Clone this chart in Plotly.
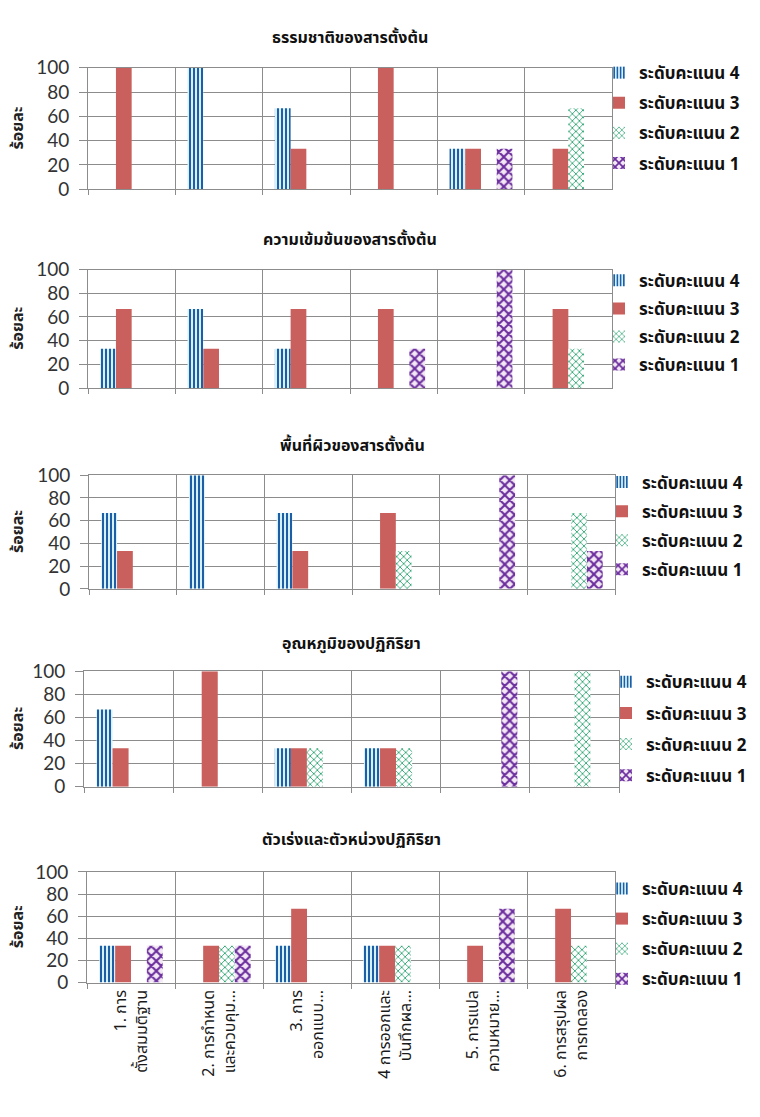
import plotly.graph_objects as go

# Categories (science process skills) shown on the shared x axis
categories = [
    "1. การ<br>ตั้งสมมติฐาน",
    "2. การกำหนด<br>และควบคุม...",
    "3. การ<br>ออกแบบ...",
    "4 การออกและ<br>บันทึกผล...",
    "5. การแปล<br>ความหมาย...",
    "6. การสรุปผล<br>การทดลอง",
]

level_names = ["ระดับคะแนน 4", "ระดับคะแนน 3", "ระดับคะแนน 2", "ระดับคะแนน 1"]

panel_titles = [
    "ธรรมชาติของสารตั้งต้น",
    "ความเข้มข้นของสารตั้งต้น",
    "พื้นที่ผิวของสารตั้งต้น",
    "อุณหภูมิของปฏิกิริยา",
    "ตัวเร่งและตัวหน่วงปฏิกิริยา",
]

# Percent of students at each score level, per category
nature_l4 = [0, 100, 66.7, 0, 33.3, 0]
nature_l3 = [100, 0, 33.3, 100, 33.3, 33.3]
nature_l2 = [0, 0, 0, 0, 0, 66.7]
nature_l1 = [0, 0, 0, 0, 33.3, 0]

conc_l4 = [33.3, 66.7, 33.3, 0, 0, 0]
conc_l3 = [66.7, 33.3, 66.7, 66.7, 0, 66.7]
conc_l2 = [0, 0, 0, 0, 0, 33.3]
conc_l1 = [0, 0, 0, 33.3, 100, 0]

surface_l4 = [66.7, 100, 66.7, 0, 0, 0]
surface_l3 = [33.3, 0, 33.3, 66.7, 0, 0]
surface_l2 = [0, 0, 0, 33.3, 0, 66.7]
surface_l1 = [0, 0, 0, 0, 100, 33.3]

temp_l4 = [66.7, 0, 33.3, 33.3, 0, 0]
temp_l3 = [33.3, 100, 33.3, 33.3, 0, 0]
temp_l2 = [0, 0, 33.3, 33.3, 0, 100]
temp_l1 = [0, 0, 0, 0, 100, 0]

catalyst_l4 = [33.3, 0, 33.3, 33.3, 0, 0]
catalyst_l3 = [33.3, 33.3, 66.7, 33.3, 33.3, 66.7]
catalyst_l2 = [0, 33.3, 0, 33.3, 0, 33.3]
catalyst_l1 = [33.3, 33.3, 0, 0, 66.7, 0]

y_ticks = [0, 20, 40, 60, 80, 100]

panels = [
    [nature_l4, nature_l3, nature_l2, nature_l1],
    [conc_l4, conc_l3, conc_l2, conc_l1],
    [surface_l4, surface_l3, surface_l2, surface_l1],
    [temp_l4, temp_l3, temp_l2, temp_l1],
    [catalyst_l4, catalyst_l3, catalyst_l2, catalyst_l1],
]

W, H = 760, 1117
# plot-area pixel boxes: (left, right, top, bottom)
boxes = [
    (88, 612, 57, 181),
    (88, 612, 263, 384),
    (89, 615, 473, 589),
    (84, 619, 673, 791),
    (87, 615, 878, 991),
]
title_y = [27, 233, 443, 645, 845]
# legend placement per panel: top edge (px) and gap between entries
legend_top = [44, 256, 462, 666, 877]
legend_gap = [5, 3, 4, 6, 5]

THAI = "Tahoma, 'Noto Sans Thai', 'Noto Sans', 'DejaVu Sans', sans-serif"
NUM = "Lato, 'Liberation Sans', sans-serif"
GRID = "#8c8c8c"

styles = [
    dict(color="#d6f1fb", pattern=dict(shape="|", fgcolor="#1c5fa6", bgcolor="#d6f1fb",
                                       size=4, solidity=0.5, fillmode="replace")),
    dict(color="#c9605d"),
    dict(color="white", pattern=dict(shape="x", fgcolor="#22a06a", bgcolor="white",
                                     size=5, solidity=0.3, fillmode="replace")),
    dict(color="#f4e8f4", pattern=dict(shape="x", fgcolor="#6a2c9e", bgcolor="#f4e8f4",
                                       size=7, solidity=0.5, fillmode="replace")),
]

fig = go.Figure()

for p, series in enumerate(panels):
    n = "" if p == 0 else str(p + 1)
    leg = "legend" + n
    for k, vals in enumerate(series):
        fig.add_trace(go.Bar(
            x=categories, y=vals, name=level_names[k],
            xaxis="x" + n, yaxis="y" + n,
            legend=leg, legendgroup=f"p{p}l{k}",
            marker=dict(line=dict(width=0), **styles[k]),
            hoverinfo="skip",
        ))

layout = dict(
    width=W, height=H,
    margin=dict(l=0, r=0, t=0, b=0),
    paper_bgcolor="white", plot_bgcolor="white",
    barmode="group", bargap=0.28, bargroupgap=0,
    showlegend=True,
    font=dict(family=THAI, color="#222222"),
)

annotations = []
for p, (l, r, t, b) in enumerate(boxes):
    n = "" if p == 0 else str(p + 1)
    last = p == len(boxes) - 1
    layout["xaxis" + n] = dict(
        domain=[l / W, r / W], anchor="y" + n,
        type="category", tickson="boundaries",
        showgrid=True, gridcolor=GRID, gridwidth=1,
        showline=True, linecolor=GRID, mirror=True,
        ticks="outside", ticklen=5, tickcolor=GRID,
        showticklabels=last, tickangle=-90,
        tickfont=dict(family=THAI, size=16, color="#1a1a1a"),
        fixedrange=True,
    )
    layout["yaxis" + n] = dict(
        domain=[1 - b / H, 1 - t / H], anchor="x" + n,
        range=[0, 100], tickvals=y_ticks,
        showgrid=True, gridcolor=GRID, gridwidth=1,
        showline=True, linecolor=GRID, mirror=True,
        ticks="outside", ticklen=8, tickcolor=GRID,
        ticklabelstandoff=6,
        tickfont=dict(family=NUM, size=19, color="#333333"),
        zeroline=False, fixedrange=True,
    )
    layout["legend" + n] = dict(
        x=(r - 13) / W, xanchor="left",
        y=1 - legend_top[p] / H, yanchor="top",
        traceorder="grouped", tracegroupgap=legend_gap[p],
        itemwidth=30, bgcolor="rgba(0,0,0,0)",
        font=dict(family=THAI, size=17, color="#111111", weight="bold"),
        itemclick=False, itemdoubleclick=False,
    )
    annotations.append(dict(
        text=f"<b>{panel_titles[p]}</b>", x=(l + r) / 2 / W, y=1 - title_y[p] / H,
        xref="paper", yref="paper", showarrow=False,
        xanchor="center", yanchor="middle",
        font=dict(family=THAI, size=16, color="#111111"),
    ))
    annotations.append(dict(
        text="<b>ร้อยละ</b>", x=18 / W, y=1 - (t + b) / 2 / H,
        xref="paper", yref="paper", showarrow=False, textangle=-90,
        xanchor="center", yanchor="middle",
        font=dict(family=THAI, size=16, color="#222222"),
    ))

layout["annotations"] = annotations
fig.update_layout(**layout)

fig.write_html("out.html")
